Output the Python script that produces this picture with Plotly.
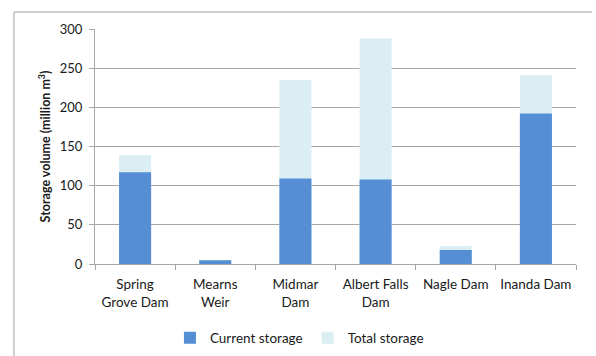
import plotly.graph_objects as go

# Reservoir storage volumes (million m³)
dams = ["Spring<br>Grove Dam", "Mearns<br>Weir", "Midmar<br>Dam",
        "Albert Falls<br>Dam", "Nagle Dam", "Inanda Dam"]
current_storage = [117, 4.8, 109, 108, 18, 192]
total_storage = [139, 5.2, 235, 288, 23, 241]

y_ticks = [0, 50, 100, 150, 200, 250, 300]

FONT = "Lato, 'Open Sans', sans-serif"
BLUE = "#558ED5"
PALE = "#DBEEF4"
GRID = "#A6A6A6"

fig = go.Figure()
# Total capacity drawn behind, current storage overlaid in front
fig.add_trace(go.Bar(
    x=dams, y=total_storage, name="Total storage",
    marker=dict(color=PALE, line=dict(width=0)), width=0.4,
    legendrank=2,
))
fig.add_trace(go.Bar(
    x=dams, y=current_storage, name="Current storage",
    marker=dict(color=BLUE, line=dict(width=0)), width=0.4,
    legendrank=1,
))

fig.update_layout(
    width=596, height=356,
    margin=dict(l=95, r=20, t=29, b=92, autoexpand=False),
    barmode="overlay",
    paper_bgcolor="white", plot_bgcolor="white",
    font=dict(family=FONT, size=13, color="#1a1a1a"),
    showlegend=True,
    legend=dict(
        orientation="h", x=0.425, xanchor="center", y=-0.315, yanchor="middle",
        font=dict(size=13.5), itemwidth=30, tracegroupgap=0,
    ),
    xaxis=dict(
        automargin=False,
        showgrid=False, showline=True, linecolor=GRID, linewidth=1,
        ticks="outside", tickson="boundaries", ticklen=5, tickcolor=GRID,
        tickfont=dict(size=13.5), ticklabelstandoff=8,
    ),
    yaxis=dict(
        automargin=False,
        range=[0, 300], tickvals=y_ticks, showgrid=True, gridcolor=GRID,
        gridwidth=1, showline=True, linecolor=GRID, linewidth=1,
        ticks="outside", ticklen=5, tickcolor=GRID, zeroline=False,
        tickfont=dict(size=13), ticklabelstandoff=4,
        title=dict(text="<b>Storage volume (million m<sup>3</sup>)</b>",
                   font=dict(size=12.5), standoff=6),
    ),
    shapes=[
        dict(type="line", xref="paper", yref="paper",
             x0=-81 / 481, x1=497 / 481, y0=1 + 17 / 235, y1=1 + 17 / 235,
             line=dict(color="#BFBFBF", width=1.5)),
        dict(type="line", xref="paper", yref="paper",
             x0=-81 / 481, x1=-81 / 481, y0=1 + 17 / 235, y1=-95 / 235,
             line=dict(color="#BFBFBF", width=1.5)),
    ],
)

fig.write_html("out.html")
